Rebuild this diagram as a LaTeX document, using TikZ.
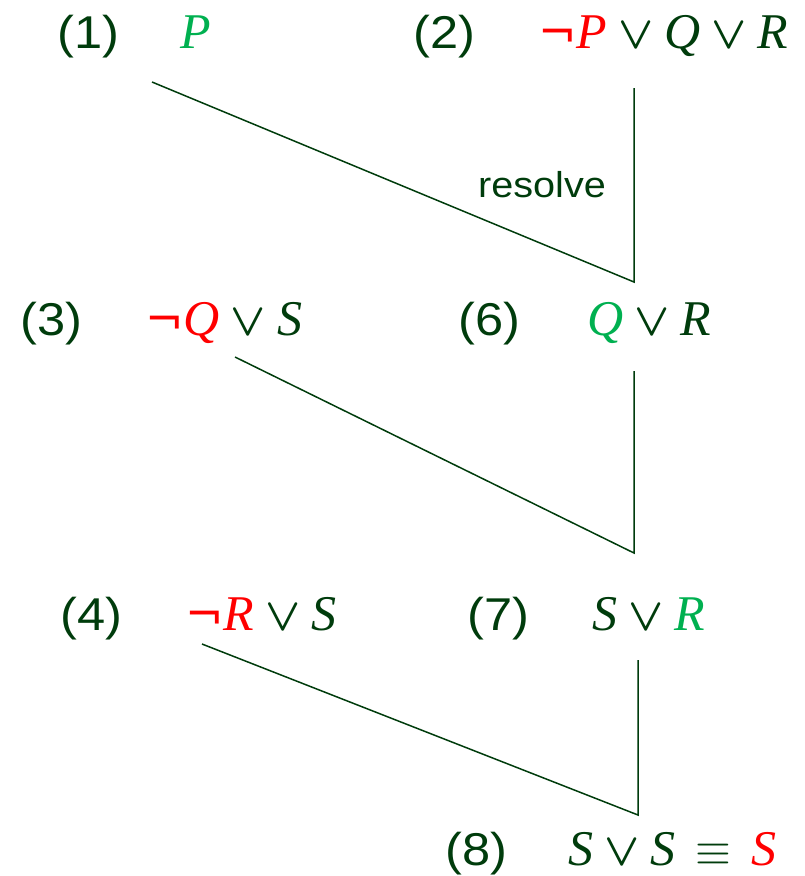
\RequirePackage{fix-cm}
\documentclass[tikz,border=0pt]{standalone}
\usepackage{fontspec}
\setmainfont{Liberation Sans}
\newfontfamily\lblfont[FakeStretch=1.1]{Liberation Sans}
\newfontfamily\varfont{Liberation Serif}
\newfontfamily\opfont{DejaVu Sans}
\definecolor{dkgreen}{HTML}{003C0C}
\definecolor{ltgreen}{HTML}{00B050}
\definecolor{negred}{HTML}{FF0000}
\newcommand{\vr}[2][dkgreen]{{\color{#1}\varfont\itshape\fontsize{50}{56}\selectfont #2}}
\newcommand{\ngl}[1]{{\color{negred}\opfont ¬}\vr[negred]{#1}}
\newcommand{\orop}{\hspace{11pt}{\boldmath$\vee$}\hspace{11pt}}

\begin{document}
\begin{tikzpicture}[
  x=1pt, y=-1pt, color=dkgreen,
  lbl/.style={anchor=base west, inner sep=0pt, font=\lblfont\fontsize{46}{52}\selectfont},
  clause/.style={anchor=base west, inner sep=0pt, font=\fontsize{46}{52}\selectfont},
  link/.style={line width=1.5pt, dkgreen},
]
  \useasboundingbox (0,0) rectangle (805,876);

  \node[lbl] (n1) at (57,48) {(1)};
  \node[clause] (c1) at (180,48) {\vr[ltgreen]{P}};
  \node[lbl] (n2) at (413,48) {(2)};
  \node[clause] (c2) at (538,48) {\ngl{P}\orop\vr{Q}\orop\vr{R}};

  \node[lbl] (n3) at (20,335) {(3)};
  \node[clause] (c3) at (145,335) {\ngl{Q}\orop\vr{S}};
  \node[lbl] (n6) at (458,335) {(6)};
  \node[clause] (c6) at (587,335) {\vr[ltgreen]{Q}\orop\vr{R}};

  \node[lbl] (n4) at (60,630) {(4)};
  \node[clause] (c4) at (185,630) {\ngl{R}\orop\vr{S}};
  \node[lbl] (n7) at (467,630) {(7)};
  \node[clause] (c7) at (592,630) {\vr{S}\orop\vr[ltgreen]{R}};

  \node[lbl] (n8) at (445,865) {(8)};
  \node[clause] (c8) at (568,865) {\vr{S}\orop\vr{S}\hspace{20pt}$\equiv$\hspace{20pt}\vr[negred]{S}};

  \node[anchor=base west, inner sep=0pt, font=\lblfont\fontsize{36}{42}\selectfont] (res) at (478,197) {resolve};

  \coordinate (a1) at (152,82);
  \coordinate (b2) at (634,88);
  \coordinate (r6) at (634,282);
  \coordinate (a3) at (235,357);
  \coordinate (b6) at (634,371);
  \coordinate (r7) at (634,553);
  \coordinate (a4) at (202,644);
  \coordinate (b7) at (638,660);
  \coordinate (r8) at (638,815);

  \draw[link] (a1) -- (r6) -- (b2);
  \draw[link] (a3) -- (r7) -- (b6);
  \draw[link] (a4) -- (r8) -- (b7);
\end{tikzpicture}
\end{document}
